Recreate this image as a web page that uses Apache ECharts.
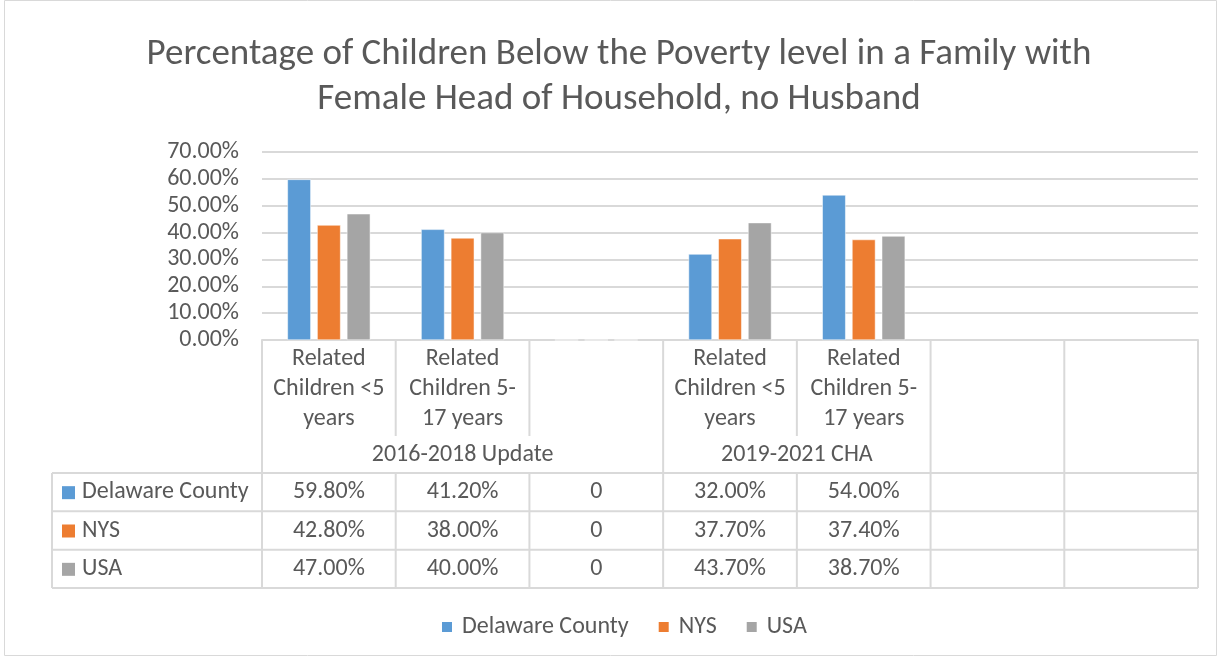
<!DOCTYPE html>
<html>
<head>
<meta charset="utf-8">
<script src="https://cdn.jsdelivr.net/npm/echarts@6/dist/echarts.min.js"></script>
<style>
  html, body { margin: 0; padding: 0; background: #fff; }
  #main { width: 1221px; height: 660px; }
</style>
</head>
<body>
<div id="main"></div>
<script>
// categories (7 slots, the last two are empty in the source sheet)
var categories = [
  'Related\nChildren <5\nyears',
  'Related\nChildren 5-\n17 years',
  '',
  'Related\nChildren <5\nyears',
  'Related\nChildren 5-\n17 years',
  '',
  ''
];
var groups = [
  { name: '2016-2018 Update', start: 0, span: 3 },
  { name: '2019-2021 CHA', start: 3, span: 2 }
];
var seriesNames = ['Delaware County', 'NYS', 'USA'];
var delawareCounty = [59.8, 41.2, 0, 32.0, 54.0, null, null];
var nys = [42.8, 38.0, 0, 37.7, 37.4, null, null];
var usa = [47.0, 40.0, 0, 43.7, 38.7, null, null];
var yTicks = [0, 10, 20, 30, 40, 50, 60, 70];

var colors = ['#5B9BD5', '#ED7D31', '#A5A5A5'];
var seriesData = [delawareCounty, nys, usa];
var textColor = '#595959';
var lineColor = '#D9D9D9';
var fontFamily = 'Carlito, Lato, "Open Sans", sans-serif';
var tableFont = 24;

var W = 1221, H = 660;
var gridLeft = 262, gridRight = 23, gridTop = 152, gridBottom = 320;
var tableBottom = 588, headerBottom = 473, innerLineBottom = 436, legendColLeft = 52;
var rowH = (tableBottom - headerBottom) / 3;

var chart = echarts.init(document.getElementById('main'));

function fmt(v) {
  if (v === null || v === undefined) return '';
  if (v === 0) return '0';
  return v.toFixed(2) + '%';
}

chart.setOption({
  animation: false,
  color: colors,
  title: {
    text: 'Percentage of Children Below the Poverty level in a Family with\nFemale Head of Household, no Husband',
    left: 619,
    textAlign: 'center',
    top: 32,
    padding: 0,
    textStyle: { color: textColor, fontFamily: fontFamily, fontSize: 37, fontWeight: 'normal', lineHeight: 45 }
  },
  legend: {
    data: seriesNames,
    bottom: 21,
    left: 440,
    padding: 0,
    icon: 'rect',
    itemWidth: 12,
    itemHeight: 12,
    itemGap: 28,
    textStyle: { color: textColor, fontFamily: fontFamily, fontSize: 24, padding: [0, 0, 0, 4] }
  },
  grid: { left: gridLeft, right: gridRight, top: gridTop, bottom: gridBottom },
  xAxis: {
    type: 'category',
    data: categories,
    axisLine: { show: true, lineStyle: { color: lineColor, width: 2 } },
    axisTick: { show: false },
    axisLabel: { show: false }
  },
  yAxis: {
    type: 'value',
    min: yTicks[0],
    max: yTicks[yTicks.length - 1],
    interval: 10,
    axisLine: { show: false },
    axisTick: { show: false },
    axisLabel: {
      color: textColor, fontFamily: fontFamily, fontSize: tableFont, margin: 23,
      formatter: function (v) { return v.toFixed(2) + '%'; }
    },
    splitLine: { lineStyle: { color: lineColor, width: 2 } }
  },
  series: seriesNames.map(function (name, i) {
    return {
      name: name,
      type: 'bar',
      data: seriesData[i],
      barGap: '27%',
      barCategoryGap: '38%',
      itemStyle: { borderColor: '#fff', borderWidth: 0.5 }
    };
  })
});

// data table drawn under the plot, aligned on the category axis
function buildTable() {
  var els = [];
  var n = categories.length;
  var colW = (W - gridLeft - gridRight) / n;
  var xb = [];
  for (var i = 0; i <= n; i++) xb.push(gridLeft + i * colW);
  var axisY = H - gridBottom;

  function line(x1, y1, x2, y2) {
    els.push({ type: 'line', silent: true,
      shape: { x1: x1, y1: y1, x2: x2, y2: y2 },
      style: { stroke: lineColor, lineWidth: 2 } });
  }
  function text(str, x, y, align) {
    els.push({ type: 'text', silent: true, x: x, y: y,
      style: { text: str, fill: textColor, font: tableFont + 'px ' + fontFamily,
        align: align || 'center', verticalAlign: 'middle', lineHeight: 30 } });
  }

  // which boundaries sit inside a group (short lines in the header)
  var inner = {};
  groups.forEach(function (g) {
    for (var k = g.start + 1; k < g.start + g.span; k++) inner[k] = true;
  });
  for (var b = 0; b <= n; b++) {
    if (inner[b]) {
      line(xb[b], axisY, xb[b], innerLineBottom);
      line(xb[b], headerBottom, xb[b], tableBottom);
    } else {
      line(xb[b], axisY, xb[b], tableBottom);
    }
  }
  line(legendColLeft, headerBottom, legendColLeft, tableBottom);
  for (var r = 0; r <= 3; r++) {
    var y = headerBottom + r * rowH;
    line(legendColLeft, y, xb[n], y);
  }

  // category header text
  categories.forEach(function (c, i) {
    if (c) text(c, (xb[i] + xb[i + 1]) / 2, axisY + 49);
  });
  groups.forEach(function (g) {
    text(g.name, (xb[g.start] + xb[g.start + g.span]) / 2, 455);
  });

  // rows
  seriesNames.forEach(function (name, s) {
    var cy = headerBottom + (s + 0.5) * rowH;
    els.push({ type: 'rect', silent: true,
      shape: { x: 62, y: cy - 6, width: 13, height: 13 },
      style: { fill: colors[s] } });
    text(name, 82, cy, 'left');
    seriesData[s].forEach(function (v, i) {
      text(fmt(v), (xb[i] + xb[i + 1]) / 2, cy);
    });
  });

  // outer chart border
  els.push({ type: 'rect', silent: true,
    shape: { x: 4.5, y: 0.5, width: W - 9, height: H - 5 },
    style: { fill: 'none', stroke: lineColor, lineWidth: 1 } });

  chart.setOption({ graphic: els });
}
buildTable();
</script>
</body>
</html>
